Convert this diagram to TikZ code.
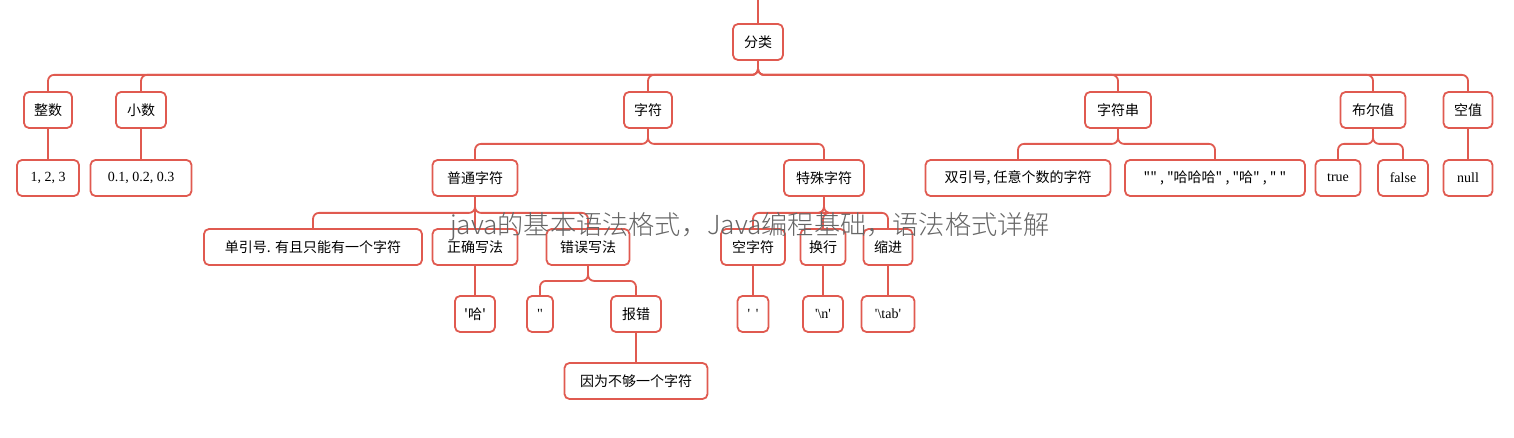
\documentclass[tikz,border=0pt]{standalone}
\usepackage{fontspec}
\setmainfont{Noto Sans CJK SC}[Ligatures=TeXOff]
\newfontfamily\serifnum{Liberation Serif}[Ligatures=TeXOff]
\newfontfamily\wmfont{Noto Sans CJK SC Light}[Ligatures=TeXOff]
\definecolor{lr}{HTML}{E05A50}
\begin{document}
\begin{tikzpicture}[x=1pt,y=-1pt,
  b/.style={draw=lr,line width=1.8pt,rounded corners=5pt,fill=white,minimum height=36pt,inner xsep=5pt,font=\fontsize{14}{16}\selectfont},
  c/.style={draw=lr,line width=1.8pt,rounded corners=6pt}]
\useasboundingbox (0,0) rectangle (1514,438);
% nodes
\node[b,minimum width=50pt] (fl) at (758,42) {分类};
\coordinate (top) at (758,0);
\node[b,minimum width=48pt] (zs) at (48,110) {整数};
\node[b,minimum width=50pt] (xs) at (141,110) {小数};
\node[b,minimum width=48pt] (zf) at (648,110) {字符};
\node[b,minimum width=66pt] (zfc) at (1118,110) {字符串};
\node[b,minimum width=65pt] (bev) at (1373,110) {布尔值};
\node[b,minimum width=49pt] (kz) at (1468,110) {空值};
\node[b,minimum width=62pt] (n1) at (48,178) {\serifnum 1, 2, 3};
\node[b,minimum width=101pt] (n2) at (141,178) {\serifnum 0.1, 0.2, 0.3};
\node[b,minimum width=85pt] (pt) at (475,178) {普通字符};
\node[b,minimum width=80pt] (ts) at (824,178) {特殊字符};
\node[b,minimum width=185pt] (sy) at (1018,178) {双引号, 任意个数的字符};
\node[b,minimum width=180pt] (ex) at (1215,178) {"" , "哈哈哈" , "哈" , " "};
\node[b,minimum width=45pt] (tr) at (1338,178) {\serifnum true};
\node[b,minimum width=50pt] (fa) at (1403,178) {\serifnum false};
\node[b,minimum width=49pt] (nu) at (1468,178) {\serifnum null};
\node[b,minimum width=218pt] (dy) at (313,247) {单引号. 有且只能有一个字符};
\node[b,minimum width=85pt] (zq) at (475,247) {正确写法};
\node[b,minimum width=83pt] (cw) at (588,247) {错误写法};
\node[b,minimum width=64pt] (kzf) at (753,247) {空字符};
\node[b,minimum width=45pt] (hh) at (823,247) {换行};
\node[b,minimum width=49pt] (sj) at (888,247) {缩进};
\node[b,minimum width=40pt] (ha) at (475,314) {'哈'};
\node[b,minimum width=26pt,inner xsep=2pt] (ee) at (540,314) {\serifnum ''};
\node[b,minimum width=50pt] (bc) at (636,314) {报错};
\node[b,minimum width=31pt,inner xsep=2pt] (sp) at (753,314) {\serifnum ' \,'};
\node[b,minimum width=40pt] (nl) at (823,314) {\serifnum '\textbackslash n'};
\node[b,minimum width=53pt] (tb) at (888,314) {\serifnum '\textbackslash tab'};
\node[b,minimum width=143pt] (yw) at (636,381) {因为不够一个字符};
% connectors
\draw[c] (top) -- (fl.north);
\foreach \ch in {zs,xs,zf,zfc,bev,kz} \draw[c] (fl.south) -- ++(0,14) -| (\ch.north);
\foreach \p/\q in {zs/n1,xs/n2,kz/nu,zq/ha,kzf/sp,hh/nl,sj/tb,bc/yw} \draw[c] (\p.south) -- (\q.north);
\foreach \ch in {pt,ts} \draw[c] (zf.south) -- ++(0,15) -| (\ch.north);
\foreach \ch in {sy,ex} \draw[c] (zfc.south) -- ++(0,15) -| (\ch.north);
\foreach \ch in {tr,fa} \draw[c] (bev.south) -- ++(0,15) -| (\ch.north);
\foreach \ch in {dy,zq,cw} \draw[c] (pt.south) -- ++(0,16) -| (\ch.north);
\foreach \ch in {kzf,hh,sj} \draw[c] (ts.south) -- ++(0,16) -| (\ch.north);
\foreach \ch in {ee,bc} \draw[c] (cw.south) -- ++(0,15) -| (\ch.north);
\node[text=black!60,font=\wmfont\fontsize{26.2}{29}\selectfont] (wm) at (750,227) {java的基本语法格式，Java编程基础，语法格式详解};
\end{tikzpicture}
\end{document}
